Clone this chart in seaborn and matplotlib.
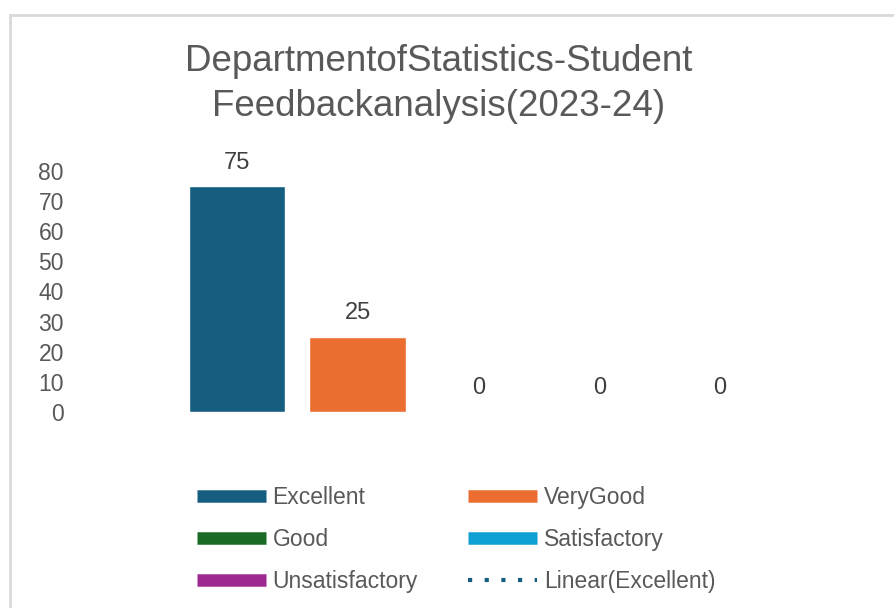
import pandas as pd
import matplotlib
matplotlib.use("Agg")
import matplotlib.pyplot as plt
import seaborn as sns
from matplotlib.lines import Line2D
from matplotlib.patches import Rectangle

# data
categories = ["Excellent", "VeryGood", "Good", "Satisfactory", "Unsatisfactory"]
values = [75, 25, 0, 0, 0]
colors = ["#165E7F", "#EB6E30", "#186A24", "#0E9FD3", "#9C2A8F"]
yticks = [0, 10, 20, 30, 40, 50, 60, 70, 80]
title = "DepartmentofStatistics-Student\nFeedbackanalysis(2023-24)"

sns.set_theme(style="white")
plt.rcParams["font.family"] = ["Liberation Sans", "DejaVu Sans"]

df = pd.DataFrame({"Category": categories, "Value": values})

fig = plt.figure(figsize=(8.94, 6.08), dpi=100)
ax = fig.add_axes([0.1974, 0.3224, 0.6756, 0.3964])

sns.barplot(data=df, x="Category", y="Value", hue="Category",
            palette=colors, order=categories, hue_order=categories,
            dodge=False, width=0.8, saturation=1, legend=False, ax=ax)

for c in ax.containers:
    ax.bar_label(c, fmt="%g", padding=9, fontsize=17, color="#404040")

ax.set_ylim(0, 80)
ax.set_xlim(-0.5, 4.5)
ax.set_yticks(yticks)
ax.set_xticks([])
ax.set_xlabel("")
ax.set_ylabel("")
ax.tick_params(axis="y", length=0, pad=81, labelsize=16.5, labelcolor="#595959")
for s in ax.spines.values():
    s.set_visible(False)

# chart area border (cut off at right and bottom)
fig.patches.append(Rectangle((10 / 894, -0.1), 2.0, 1 - 15 / 608 + 0.1,
                             transform=fig.transFigure, fill=False,
                             edgecolor="#D9D9D9", linewidth=2))

fig.text(0.4905, 1 - 84 / 608, title, ha="center", va="center", fontsize=26.5,
         color="#595959", linespacing=1.35)

handles = [Line2D([], [], color=col, lw=9, solid_capstyle="butt") for col in colors]
handles.append(Line2D([], [], color="#165E7F", lw=3, linestyle=(0, (1, 3))))
labels = categories + ["Linear(Excellent)"]
# reorder for two columns filled row by row
order = [0, 2, 4, 1, 3, 5]
fig.legend([handles[i] for i in order], [labels[i] for i in order],
           loc="upper left", bbox_to_anchor=(197 / 894, 1 - 486 / 608),
           ncol=2, frameon=False, fontsize=16.5, labelcolor="#595959",
           handlelength=3.0, handletextpad=0.3, columnspacing=2.2,
           labelspacing=0.82, borderpad=0, borderaxespad=0)

fig.savefig("out.png", dpi=100)
